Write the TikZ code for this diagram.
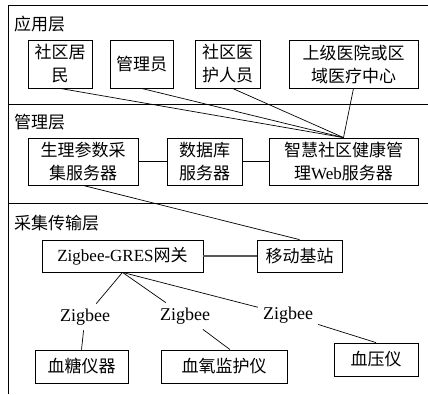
\documentclass[tikz,border=0pt]{standalone}
\usepackage{fontspec}
\setmainfont{Liberation Serif}
\newfontfamily\cj{Noto Sans CJK SC}
\begin{document}
\begin{tikzpicture}[x=1pt,y=-1pt,
  frame/.style={draw, line width=0.8pt},
  box/.style={draw, line width=0.8pt, align=center, inner sep=0pt,
    font=\fontsize{17}{23}\selectfont\cj},
  layer/.style={anchor=west, inner sep=0pt, font=\fontsize{17}{20}\selectfont\cj},
  zlab/.style={inner sep=5pt, font=\fontsize{18}{20}\selectfont},
  link/.style={draw, line width=0.7pt}]
\useasboundingbox (0,0) rectangle (428,394);
\fill[white] (0,0) rectangle (428,394);
% layer frames
\draw[frame] (8,394) -- (8,5) -- (428,5);
\draw[frame] (8,104) -- (428,104);
\draw[frame] (8,203) -- (428,203);
\node[layer] (l1) at (14,24) {应用层};
\node[layer] (l2) at (14,122) {管理层};
\node[layer] (l3) at (14,223) {采集传输层};
% application layer
\node[box, minimum width=64pt, minimum height=48pt] (res) at (60,64) {社区居\\民};
\node[box, minimum width=63pt, minimum height=48pt] (mgr) at (141.5,64) {管理员};
\node[box, minimum width=65pt, minimum height=48pt] (med) at (227.5,64) {社区医\\护人员};
\node[box, minimum width=129pt, minimum height=48pt] (hosp) at (353.5,64) {上级医院或区\\域医疗中心};
% management layer
\node[box, minimum width=110pt, minimum height=47pt] (phys) at (83,161.5) {生理参数采\\集服务器};
\node[box, minimum width=75pt, minimum height=47pt] (db) at (204.5,161.5) {数据库\\服务器};
\node[box, minimum width=149pt, minimum height=47pt] (web) at (343.5,161.5) {智慧社区健康管\\{\cj 理}{\rmfamily Web}服务器};
% collection layer
\node[box, minimum width=161pt, minimum height=32pt] (gw) at (122.5,256) {{\rmfamily Zigbee-GRES}网关};
\node[box, minimum width=85pt, minimum height=32pt] (mob) at (299.5,256) {移动基站};
\node[box, minimum width=93pt, minimum height=33pt] (bg) at (81.5,366.5) {血糖仪器};
\node[box, minimum width=126pt, minimum height=33pt] (ox) at (224,366.5) {血氧监护仪};
\node[box, minimum width=84pt, minimum height=33pt] (bp) at (376,359.5) {血压仪};
\node[zlab] (z1) at (85,317) {Zigbee};
\node[zlab] (z2) at (185,316) {Zigbee};
\node[zlab] (z3) at (288,315) {Zigbee};
% connectors
\draw[link] (res.south) -- (web.north);
\draw[link] (mgr.south) -- (web.north);
\draw[link] ([xshift=5pt]med.south) -- (web.north);
\draw[link] (hosp.south) -- (web.north);
\draw[link] (phys.east) -- (db.west);
\draw[link] (db.east) -- (web.west);
\draw[link] (phys.south) -- (mob.north);
\draw[link, black!65, line width=1.1pt] (gw.east) -- (mob.west);
\draw[link] (gw.south) -- (z1) -- (bg.north);
\draw[link] (gw.south) -- (z2) -- ([xshift=6pt]ox.north);
\draw[link] (gw.south) -- (z3) -- (bp.north);
\end{tikzpicture}
\end{document}
